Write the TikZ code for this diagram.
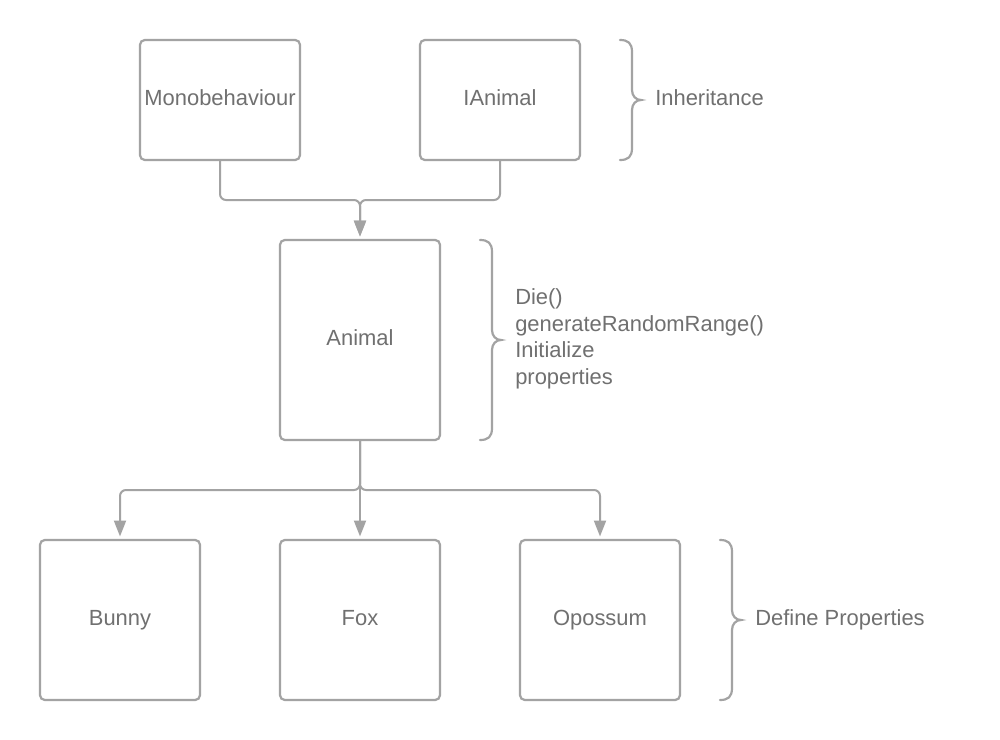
\documentclass[tikz,border=0pt]{standalone}
\usepackage{fontspec}
\setmainfont{Liberation Sans}
\usetikzlibrary{arrows.meta}
\definecolor{boxgray}{HTML}{A3A3A3}
\definecolor{txtgray}{HTML}{707070}
\begin{document}
\begin{tikzpicture}[x=0.25mm,y=-0.25mm,
  box/.style={draw=boxgray, line width=0.55mm, rounded corners=1.2mm, minimum width=40mm, inner sep=0pt, text=txtgray, text height=11.2pt, text depth=4pt, font=\fontsize{15.6pt}{18.9pt}\selectfont},
  lbl/.style={text=txtgray, anchor=west, align=left, inner sep=0pt, font=\fontsize{15.6pt}{18.9pt}\selectfont},
  fixh/.style={text height=11.2pt, text depth=4pt},
  conn/.style={draw=boxgray, line width=0.5mm, rounded corners=1.5mm},
  arr/.style={conn, -{Triangle[length=4mm,width=3mm]}, shorten >=0.6mm},
  brc/.style={draw=boxgray, line width=0.55mm, line cap=round}]
\fill[white] (0,0) rectangle (1000,740);
\useasboundingbox (0,0) rectangle (1000,740);
% boxes
\node[box, minimum height=30mm] (mono) at (220,100) {Monobehaviour};
\node[box, minimum height=30mm] (ianimal) at (500,100) {IAnimal};
\node[box, minimum height=50mm] (animal) at (360,340) {Animal};
\node[box, minimum height=40mm] (bunny) at (120,620) {Bunny};
\node[box, minimum height=40mm] (fox) at (360,620) {Fox};
\node[box, minimum height=40mm] (opossum) at (600,620) {Opossum};
% labels
\node[lbl, fixh] (inh) at (655,100) {Inheritance};
\node[lbl] (methods) at (515,339) {Die()\\generateRandomRange()\\Initialize\\properties};
\node[lbl, fixh] (defprop) at (755,620) {Define Properties};
% connectors
\coordinate (j1) at (360,200);
\coordinate (j2) at (360,490);
\draw[arr] (mono.south) -- (220,200) -- (j1) -- (animal.north);
\draw[arr] (ianimal.south) -- (500,200) -- (j1) -- (animal.north);
\draw[arr] (animal.south) -- (j2) -- (120,490) -- (bunny.north);
\draw[arr] (animal.south) -- (j2) -- (fox.north);
\draw[arr] (animal.south) -- (j2) -- (600,490) -- (opossum.north);
% braces
\foreach \xa/\ya/\yb in {620/40/160, 480/240/440, 720/540/700}{
  \pgfmathsetmacro{\xs}{\xa+12}
  \pgfmathsetmacro{\xt}{\xa+21}
  \pgfmathsetmacro{\ym}{(\ya+\yb)/2}
  \draw[brc] (\xa,\ya) .. controls (\xa+8,\ya) and (\xs,\ya+3) .. (\xs,\ya+12)
    -- (\xs,\ym-10) .. controls (\xs,\ym-4) and (\xs+4,\ym) .. (\xt,\ym)
    .. controls (\xs+4,\ym) and (\xs,\ym+4) .. (\xs,\ym+10)
    -- (\xs,\yb-12) .. controls (\xs,\yb-3) and (\xa+8,\yb) .. (\xa,\yb);
}
\end{tikzpicture}
\end{document}
